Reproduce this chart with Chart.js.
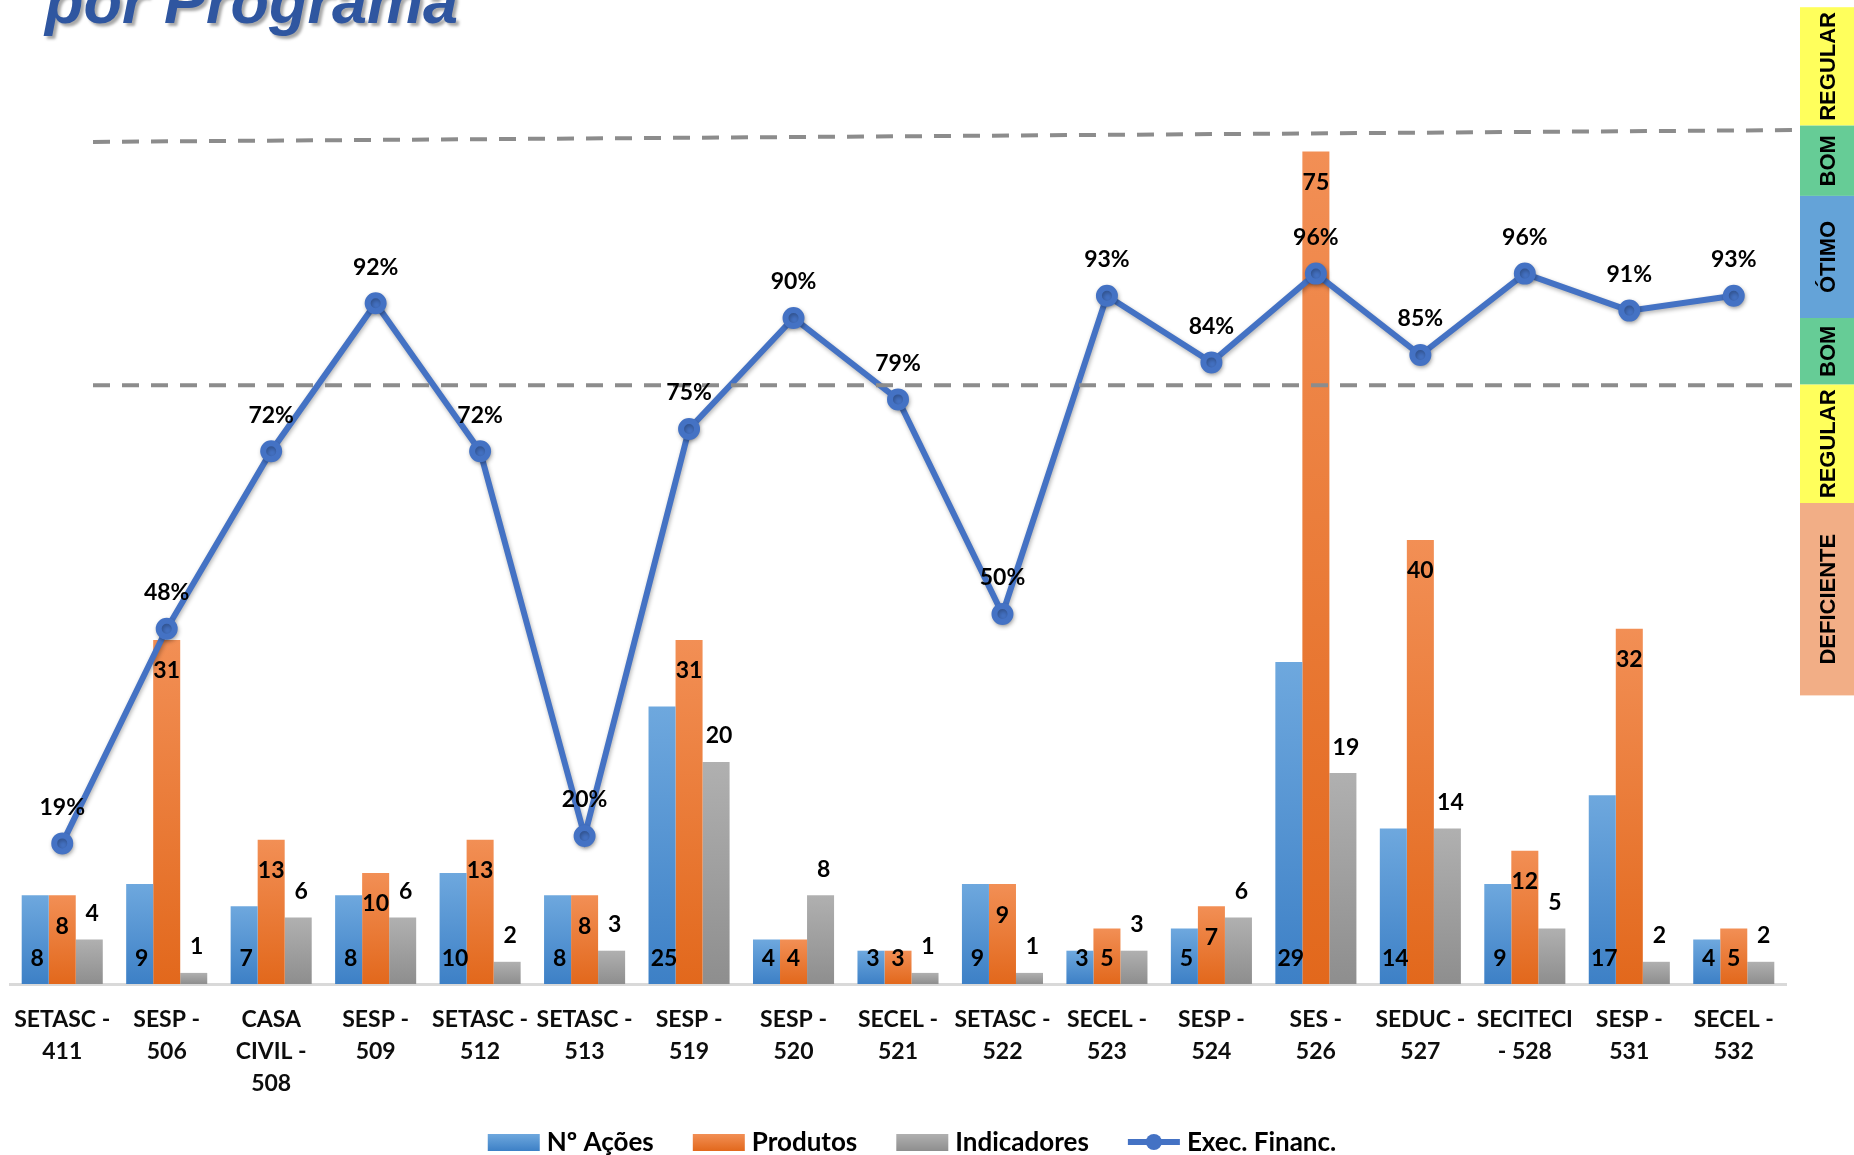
<!DOCTYPE html>
<html lang="pt-BR">
<head>
<meta charset="utf-8">
<title>Execução por Programa</title>
<script src="https://cdn.jsdelivr.net/npm/chart.js@4.4.1/dist/chart.umd.min.js"></script>
<style>
  html, body { margin: 0; padding: 0; background: #fff; overflow: hidden; }
  #quadro { position: relative; width: 1854px; height: 1155px; }
  #titulo {
    position: absolute; left: 45px; top: -30px;
    font: italic bold 63px/62px "Liberation Sans", Arial, sans-serif;
    color: #2F56A0; white-space: nowrap;
    text-shadow: 3px 3px 3px rgba(0, 0, 0, 0.35);
  }
  canvas { position: absolute; left: 0; top: 0; }
</style>
</head>
<body>
<div id="quadro">
  <canvas id="grafico" width="1854" height="1155"></canvas>
  <div id="titulo">por Programa</div>
</div>
<script>
// Programas (rótulos do eixo X, em várias linhas)
const programas = [
    ['SETASC -', '411'], ['SESP -', '506'], ['CASA', 'CIVIL -', '508'], ['SESP -', '509'],
    ['SETASC -', '512'], ['SETASC -', '513'], ['SESP -', '519'], ['SESP -', '520'],
    ['SECEL -', '521'], ['SETASC -', '522'], ['SECEL -', '523'], ['SESP -', '524'],
    ['SES -', '526'], ['SEDUC -', '527'], ['SECITECI', '- 528'], ['SESP -', '531'], ['SECEL -', '532']
];

// Séries
const numAcoes    = [8, 9, 7, 8, 10, 8, 25, 4, 3, 9, 3, 5, 29, 14, 9, 17, 4];
const produtos    = [8, 31, 13, 10, 13, 8, 31, 4, 3, 9, 5, 7, 75, 40, 12, 32, 5];
const indicadores = [4, 1, 6, 6, 2, 3, 20, 8, 1, 1, 3, 6, 19, 14, 5, 2, 2];
const execFinanc  = [19, 48, 72, 92, 72, 20, 75, 90, 79, 50, 93, 84, 96, 85, 96, 91, 93]; // %

// Faixas de avaliação (em % da execução financeira)
const faixasLimites = [132, 116, 106.5, 90, 81, 65, 39];
const faixasNomes   = ['REGULAR', 'BOM', 'ÓTIMO', 'BOM', 'REGULAR', 'DEFICIENTE'];
const faixasCores   = ['#FFFF5C', '#66CC96', '#64A3D8', '#66CC96', '#FFFF5C', '#F2AE86'];

// Linhas tracejadas (valor à esquerda, valor à direita)
const linhaSuperior = [113.8, 115.4];
const linhaInferior = [80.9, 80.9];

const FONTE = 'Lato, "Open Sans", "Liberation Sans", sans-serif';

// Gradiente vertical por barra
const gradiente = (topo, base) => (ctx) => {
    const chart = ctx.chart;
    if (!chart.chartArea || ctx.type !== 'data') return base;
    const escala = chart.scales.y;
    const yTopo = escala.getPixelForValue(ctx.parsed.y);
    const yBase = escala.getPixelForValue(0);
    if (!isFinite(yTopo) || yTopo === yBase) return base;
    const g = chart.ctx.createLinearGradient(0, yTopo, 0, yBase);
    g.addColorStop(0, topo);
    g.addColorStop(1, base);
    return g;
};

// Faixas coloridas + linhas tracejadas
const faixasPlugin = {
    id: 'faixas',
    afterDatasetsDraw(chart) {
        const { ctx, width } = chart;
        const y1 = chart.scales.y1;
        const xFaixa = width - 54;

        // linhas tracejadas
        ctx.save();
        ctx.strokeStyle = '#8C8C8C';
        ctx.lineWidth = 4;
        ctx.setLineDash([17, 12]);
        [linhaSuperior, linhaInferior].forEach(l => {
            ctx.beginPath();
            ctx.moveTo(93, y1.getPixelForValue(l[0]));
            ctx.lineTo(xFaixa, y1.getPixelForValue(l[1]));
            ctx.stroke();
        });
        ctx.restore();

        // faixas à direita
        ctx.save();
        faixasNomes.forEach((nome, i) => {
            const yA = y1.getPixelForValue(faixasLimites[i]);
            const yB = y1.getPixelForValue(faixasLimites[i + 1]);
            ctx.fillStyle = faixasCores[i];
            ctx.fillRect(xFaixa, yA, width - xFaixa, yB - yA);
            ctx.save();
            ctx.translate(xFaixa + (width - xFaixa) / 2 + 2, (yA + yB) / 2);
            ctx.rotate(-Math.PI / 2);
            ctx.fillStyle = '#000';
            ctx.font = 'bold 22px "Liberation Sans", Arial, sans-serif';
            ctx.textAlign = 'center';
            ctx.textBaseline = 'middle';
            ctx.fillText(nome, 0, 0);
            ctx.restore();
        });
        ctx.restore();
    }
};

// Rótulos de dados
const rotulosPlugin = {
    id: 'rotulos',
    afterDatasetsDraw(chart) {
        const ctx = chart.ctx;
        const base = chart.scales.y.getPixelForValue(0);
        ctx.save();
        ctx.fillStyle = '#000';
        ctx.font = 'bold 23px ' + FONTE;
        ctx.textAlign = 'center';
        ctx.textBaseline = 'middle';
        chart.data.datasets.forEach((ds, i) => {
            const meta = chart.getDatasetMeta(i);
            meta.data.forEach((el, j) => {
                const v = ds.data[j];
                let x = el.x, y, txt = String(v);
                if (ds.rotulo === 'base') {
                    y = base - 25;
                    x += 2;
                } else if (ds.rotulo === 'dentro') {
                    y = Math.min(el.y + 31, base - 25);
                } else if (ds.rotulo === 'fora') {
                    y = el.y - 26;
                    x += 3;
                } else {
                    y = el.y - 36;
                    txt = v + '%';
                }
                ctx.fillText(txt, x, y);
            });
        });
        ctx.restore();
    }
};

// Sombra da linha
const sombraPlugin = {
    id: 'sombra',
    beforeDatasetDraw(chart, args) {
        if (args.meta.type !== 'line') return;
        const ctx = chart.ctx;
        ctx.save();
        ctx.shadowColor = 'rgba(0,0,0,0.3)';
        ctx.shadowBlur = 4;
        ctx.shadowOffsetX = 1;
        ctx.shadowOffsetY = 2;
    },
    afterDatasetDraw(chart, args) {
        if (args.meta.type !== 'line') return;
        chart.ctx.restore();
    }
};

// Legenda desenhada à mão (linha com marcador)
const legendaPlugin = {
    id: 'legendaCustom',
    afterDraw(chart) {
        const ctx = chart.ctx;
        const caixa = 52, gapTexto = 7, gapItem = 39;
        const yMeio = 1142;
        ctx.save();
        ctx.font = 'bold 26px ' + FONTE;
        ctx.textBaseline = 'middle';
        const itens = chart.data.datasets.map(ds => ({ ds, w: caixa + gapTexto + ctx.measureText(ds.label).width }));
        const total = itens.reduce((s, it) => s + it.w, 0) + gapItem * (itens.length - 1);
        let x = chart.width / 2 - 15 - total / 2;
        itens.forEach(({ ds, w }) => {
            if (ds.type === 'line') {
                ctx.strokeStyle = ds.borderColor;
                ctx.lineWidth = 6;
                ctx.beginPath();
                ctx.moveTo(x, yMeio);
                ctx.lineTo(x + caixa, yMeio);
                ctx.stroke();
                ctx.fillStyle = ds.borderColor;
                ctx.beginPath();
                ctx.arc(x + caixa / 2, yMeio, 8, 0, Math.PI * 2);
                ctx.fill();
            } else {
                const g = ctx.createLinearGradient(0, yMeio - 8, 0, yMeio + 9);
                g.addColorStop(0, ds.corTopo);
                g.addColorStop(1, ds.corBase);
                ctx.fillStyle = g;
                ctx.fillRect(x, yMeio - 8, caixa, 17);
            }
            ctx.fillStyle = '#000';
            ctx.fillText(ds.label, x + caixa + gapTexto, yMeio + 1);
            x += w + gapItem;
        });
        ctx.restore();
    }
};

const dadosBarras = [
    { label: 'Nº Ações', data: numAcoes, corTopo: '#6EA8DE', corBase: '#3D80C6', rotulo: 'base' },
    { label: 'Produtos', data: produtos, corTopo: '#F28F55', corBase: '#E2681C', rotulo: 'dentro' },
    { label: 'Indicadores', data: indicadores, corTopo: '#B0B0B0', corBase: '#8E8E8E', rotulo: 'fora' }
].map(d => Object.assign(d, {
    type: 'bar',
    yAxisID: 'y',
    order: 1,
    backgroundColor: gradiente(d.corTopo, d.corBase),
    borderWidth: 0,
    categoryPercentage: 0.776,
    barPercentage: 1.0
}));

new Chart(document.getElementById('grafico'), {
    data: {
        labels: programas,
        datasets: [
            ...dadosBarras,
            {
                type: 'line',
                label: 'Exec. Financ.',
                data: execFinanc,
                yAxisID: 'y1',
                order: 0,
                borderColor: '#4472C4',
                backgroundColor: '#4472C4',
                borderWidth: 6,
                pointRadius: 8,
                pointBackgroundColor: '#4472C4',
                pointBorderColor: '#4472C4',
                tension: 0,
                rotulo: 'linha'
            }
        ]
    },
    options: {
        responsive: false,
        animation: false,
        layout: { autoPadding: false, padding: { left: 10, right: 68, top: 96, bottom: 0 } },
        plugins: {
            legend: { display: false },
            tooltip: { enabled: false }
        },
        scales: {
            x: {
                // tickLength (não desenhado) dá o afastamento dos rótulos sem mexer na área do gráfico
                grid: { display: false, drawTicks: true, tickLength: 20 },
                border: { display: true, color: '#D9D9D9', width: 3 },
                ticks: {
                    color: '#0D0D0D',
                    font: { family: FONTE, size: 23, weight: 'bold', lineHeight: 1.38 },
                    padding: 0,
                    maxRotation: 0,
                    autoSkip: false
                },
                afterFit(scale) {
                    scale.height = 171;
                    scale.paddingLeft = 0;
                    scale.paddingRight = 0;
                }
            },
            y: { display: false, min: 0, max: 80 },
            y1: { display: false, min: 0, max: 120 }
        }
    },
    plugins: [sombraPlugin, faixasPlugin, rotulosPlugin, legendaPlugin]
});
</script>
</body>
</html>
